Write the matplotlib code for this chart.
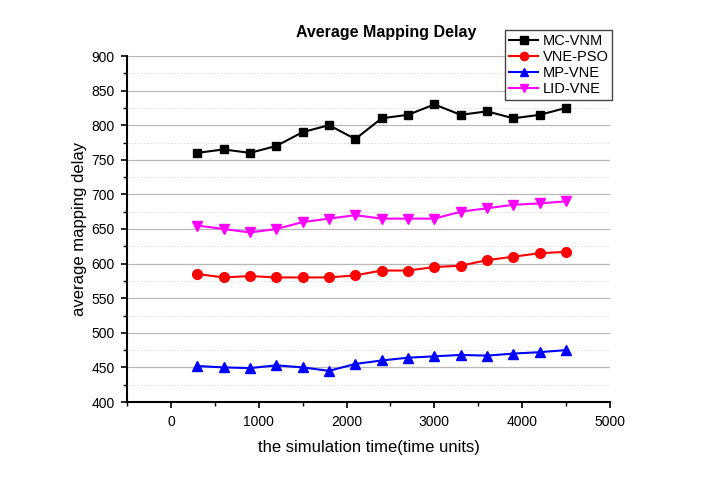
import matplotlib
matplotlib.use("Agg")
import matplotlib.pyplot as plt
from matplotlib.ticker import MultipleLocator

plt.rcParams['font.family'] = ['Liberation Sans', 'DejaVu Sans']

times = [300, 600, 900, 1200, 1500, 1800, 2100, 2400, 2700, 3000, 3300, 3600, 3900, 4200, 4500]
mc_vnm = [760, 765, 760, 770, 790, 800, 780, 810, 815, 830, 815, 820, 810, 815, 825]
vne_pso = [585, 580, 582, 580, 580, 580, 583, 590, 590, 595, 597, 605, 610, 615, 617]
mp_vne = [452, 450, 449, 453, 450, 445, 455, 460, 464, 466, 468, 467, 470, 472, 475]
lid_vne = [655, 650, 645, 650, 660, 665, 670, 665, 665, 665, 675, 680, 685, 687, 690]

fig = plt.figure(figsize=(7.09, 4.83), dpi=100)
ax = fig.add_axes([127/709, 1-402/483, (610-127)/709, (402-56)/483])

ax.plot(times, mc_vnm, color='black', marker='s', markersize=6, linewidth=1.5, label='MC-VNM')
ax.plot(times, vne_pso, color='red', marker='o', markersize=7, linewidth=1.5, label='VNE-PSO')
ax.plot(times, mp_vne, color='blue', marker='^', markersize=7, linewidth=1.5, label='MP-VNE')
ax.plot(times, lid_vne, color='magenta', marker='v', markersize=7, linewidth=1.5, label='LID-VNE')

ax.set_xlim(-500, 5000)
ax.set_ylim(400, 900)
ax.xaxis.set_major_locator(MultipleLocator(1000))
ax.xaxis.set_minor_locator(MultipleLocator(500))
ax.yaxis.set_major_locator(MultipleLocator(50))
ax.yaxis.set_minor_locator(MultipleLocator(25))

ax.grid(which='major', axis='y', color='#b8b8b8', linewidth=0.9, linestyle='-')
ax.grid(which='minor', axis='y', color='#d8d8d8', linewidth=0.6, linestyle=(0, (2, 2)))
ax.set_axisbelow(True)
for t in ax.yaxis.get_major_ticks():
    if abs(t.get_loc() - 900) < 1e-6:
        t.gridline.set_visible(False)

for s in ['top', 'right']:
    ax.spines[s].set_visible(False)
for s in ['left', 'bottom']:
    ax.spines[s].set_linewidth(1.5)

ax.tick_params(which='major', direction='out', length=4, width=1.2, labelsize=10, pad=5)
ax.tick_params(which='minor', direction='out', length=3, width=1.0)

ax.set_xlabel('the simulation time(time units)', fontsize=12, labelpad=8)
ax.set_ylabel('average mapping delay', fontsize=12, labelpad=3)

fig.text(386/709, 1-33/483, 'Average Mapping Delay', ha='center', va='center',
         fontsize=11.5, fontweight='bold')

leg = ax.legend(loc='upper right', bbox_to_anchor=(612/709, 1-30/483),
                bbox_transform=fig.transFigure, fontsize=10.5, fancybox=False,
                framealpha=1, edgecolor='#444444', borderpad=0.25, labelspacing=0.15,
                handlelength=2.0, handletextpad=0.3, borderaxespad=0, markerscale=0.85)
leg.get_frame().set_linewidth(1.0)

fig.savefig('out.png', dpi=100)
